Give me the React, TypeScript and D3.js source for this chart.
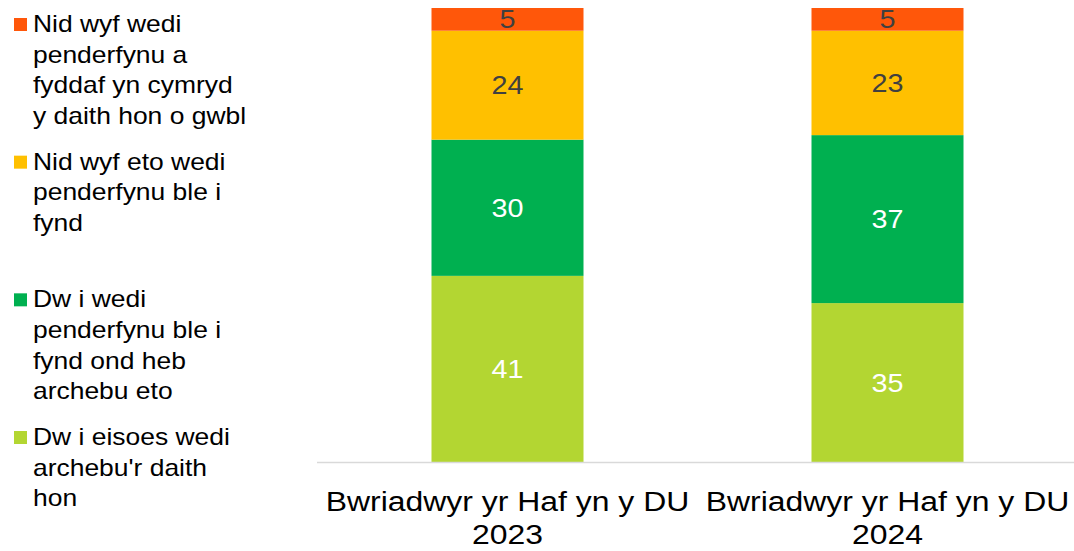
import * as React from 'react';
import * as d3 from 'd3';

const categories = ['Bwriadwyr yr Haf yn y DU 2023', 'Bwriadwyr yr Haf yn y DU 2024'];
const categoryLines = [
  ['Bwriadwyr yr Haf yn y DU', '2023'],
  ['Bwriadwyr yr Haf yn y DU', '2024'],
];

// stacked bottom -> top
const seriesNames = [
  'Dw i eisoes wedi archebu\'r daith hon',
  'Dw i wedi penderfynu ble i fynd ond heb archebu eto',
  'Nid wyf eto wedi penderfynu ble i fynd',
  'Nid wyf wedi penderfynu a fyddaf yn cymryd y daith hon o gwbl',
];
const booked = [41, 35];
const decidedNotBooked = [30, 37];
const notDecidedWhere = [24, 23];
const notDecidedAtAll = [5, 5];
const seriesValues = [booked, decidedNotBooked, notDecidedWhere, notDecidedAtAll];

const colors = ['#B3D632', '#00B050', '#FFC000', '#FF570A'];
const labelColors = ['#ffffff', '#ffffff', '#404040', '#404040'];

// legend (top -> bottom), pre-wrapped like the original
const legendLines = [
  ['Nid wyf wedi', 'penderfynu a', 'fyddaf yn cymryd', 'y daith hon o gwbl'],
  ['Nid wyf eto wedi', 'penderfynu ble i', 'fynd'],
  ['Dw i wedi', 'penderfynu ble i', 'fynd ond heb', 'archebu eto'],
  ['Dw i eisoes wedi', "archebu'r daith", 'hon'],
];
const legendColors = [colors[3], colors[2], colors[1], colors[0]];

const width = 1074;
const height = 551;
const font = '"Liberation Sans", Arial, sans-serif';
const sx = 1.15;

export default function App() {
  React.useEffect(() => {
    document.body.style.margin = '0';
  }, []);

  const x = d3.scaleBand<string>()
    .domain(categories)
    .range([317.5, 1077.5])
    .paddingInner(0.6)
    .paddingOuter(0.3);
  const y = d3.scaleLinear().domain([0, 100]).range([462, 8]);

  const rows = categories.map((c, i) => {
    const r: any = { cat: c };
    seriesNames.forEach((s, j) => { r[s] = seriesValues[j][i]; });
    return r;
  });
  const stack = d3.stack<any>().keys(seriesNames)(rows);

  const legendY = d3.scaleLinear().domain([0, 3]).range([32, 445]);

  return (
    <svg width={width} height={height} style={{ display: 'block', background: '#fff' }}>
      {stack.map((layer, j) => (
        <g key={j}>
          {layer.map((d, i) => {
            const x0 = x(categories[i])!;
            const yTop = y(d[1]);
            const yBot = y(d[0]);
            return (
              <g key={i}>
                <rect x={x0} y={yTop} width={x.bandwidth()} height={yBot - yTop} fill={colors[j]} />
                <text
                  transform={`translate(${x0 + x.bandwidth() / 2},${(yTop + yBot) / 2 + 9}) scale(${sx},1)`}
                  textAnchor="middle"
                  fontFamily={font}
                  fontSize={25}
                  fill={labelColors[j]}
                >
                  {seriesValues[j][i]}
                </text>
              </g>
            );
          })}
        </g>
      ))}

      <line x1={317} x2={1074} y1={462.5} y2={462.5} stroke="#d9d9d9" strokeWidth={1.5} />

      {categories.map((c, i) => (
        <g key={c}>
          {categoryLines[i].map((ln, k) => (
            <text
              key={k}
              transform={`translate(${x(c)! + x.bandwidth() / 2},${511 + k * 32.5}) scale(1.14,1)`}
              textAnchor="middle"
              fontFamily={font}
              fontSize={28}
              fill="#000"
            >
              {ln}
            </text>
          ))}
        </g>
      ))}

      {legendLines.map((lines, i) => {
        const by = legendY(i);
        return (
          <g key={i}>
            <rect x={14} y={by - 14} width={13} height={13} fill={legendColors[i]} />
            {lines.map((ln, k) => (
              <text
                key={k}
                transform={`translate(33,${by + k * 30.7}) scale(${sx},1)`}
                fontFamily={font}
                fontSize={23}
                fill="#000"
              >
                {ln}
              </text>
            ))}
          </g>
        );
      })}
    </svg>
  );
}
